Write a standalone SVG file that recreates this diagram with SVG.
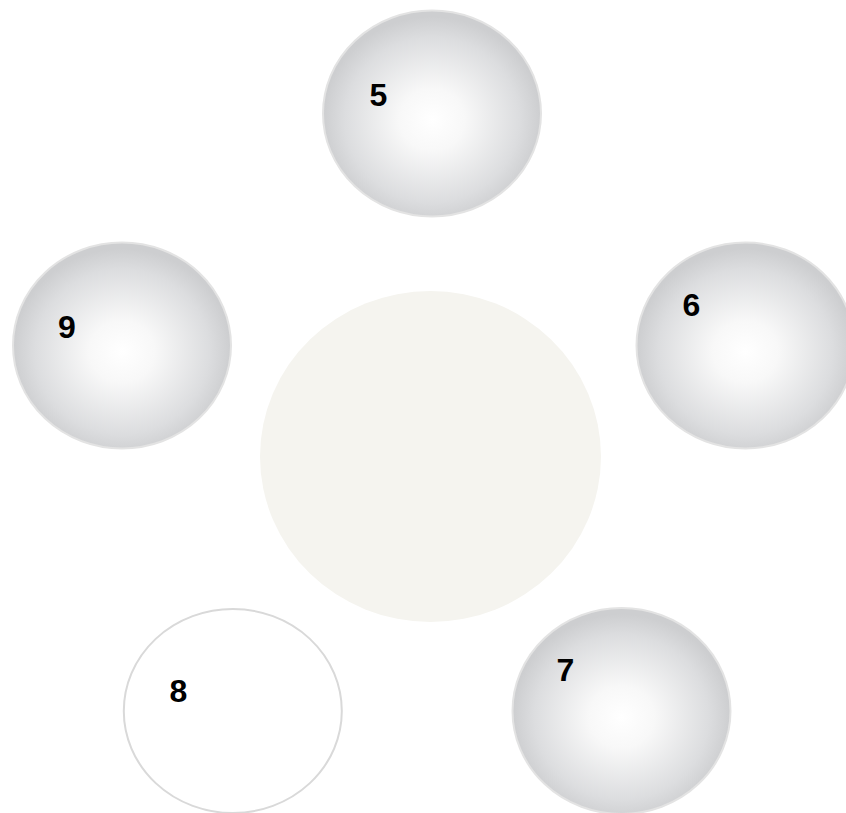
<svg xmlns="http://www.w3.org/2000/svg" width="846" height="813" viewBox="0 0 846 813">
<defs>
<radialGradient id="ball" cx="0.5" cy="0.53" r="0.5">
<stop offset="0" stop-color="#ffffff"/>
<stop offset="0.3" stop-color="#f8f8f8"/>
<stop offset="0.8" stop-color="#dcdddf"/>
<stop offset="1" stop-color="#cdced0"/>
</radialGradient>
</defs>
<style>
.ball{fill:url(#ball);stroke:#e3e3e3;stroke-width:2}
.ring{fill:#ffffff;stroke:#d9d9d9;stroke-width:2}
.lbl{font-family:"Liberation Sans",Arial,sans-serif;font-weight:bold;font-size:32px;fill:#000}
</style>
<rect width="846" height="813" fill="#ffffff"/>
<g id="connectors"></g>
<g id="center"><ellipse cx="430.5" cy="456.5" rx="170.5" ry="165.5" fill="#f5f4ef"/></g>
<g id="n5"><ellipse class="ball" cx="432" cy="113.5" rx="109" ry="103"/><text class="lbl" x="369.5" y="106">5</text></g>
<g id="n9"><ellipse class="ball" cx="122" cy="345.5" rx="109" ry="103"/><text class="lbl" x="58" y="337.5">9</text></g>
<g id="n6"><ellipse class="ball" cx="745.5" cy="345.5" rx="109" ry="103"/><text class="lbl" x="682.5" y="315.5">6</text></g>
<g id="n8"><ellipse class="ring" cx="232.8" cy="711" rx="109" ry="102"/><text class="lbl" x="169.5" y="701.5">8</text></g>
<g id="n7"><ellipse class="ball" cx="621.5" cy="711" rx="109" ry="103"/><text class="lbl" x="556.5" y="680.5">7</text></g>
</svg>
